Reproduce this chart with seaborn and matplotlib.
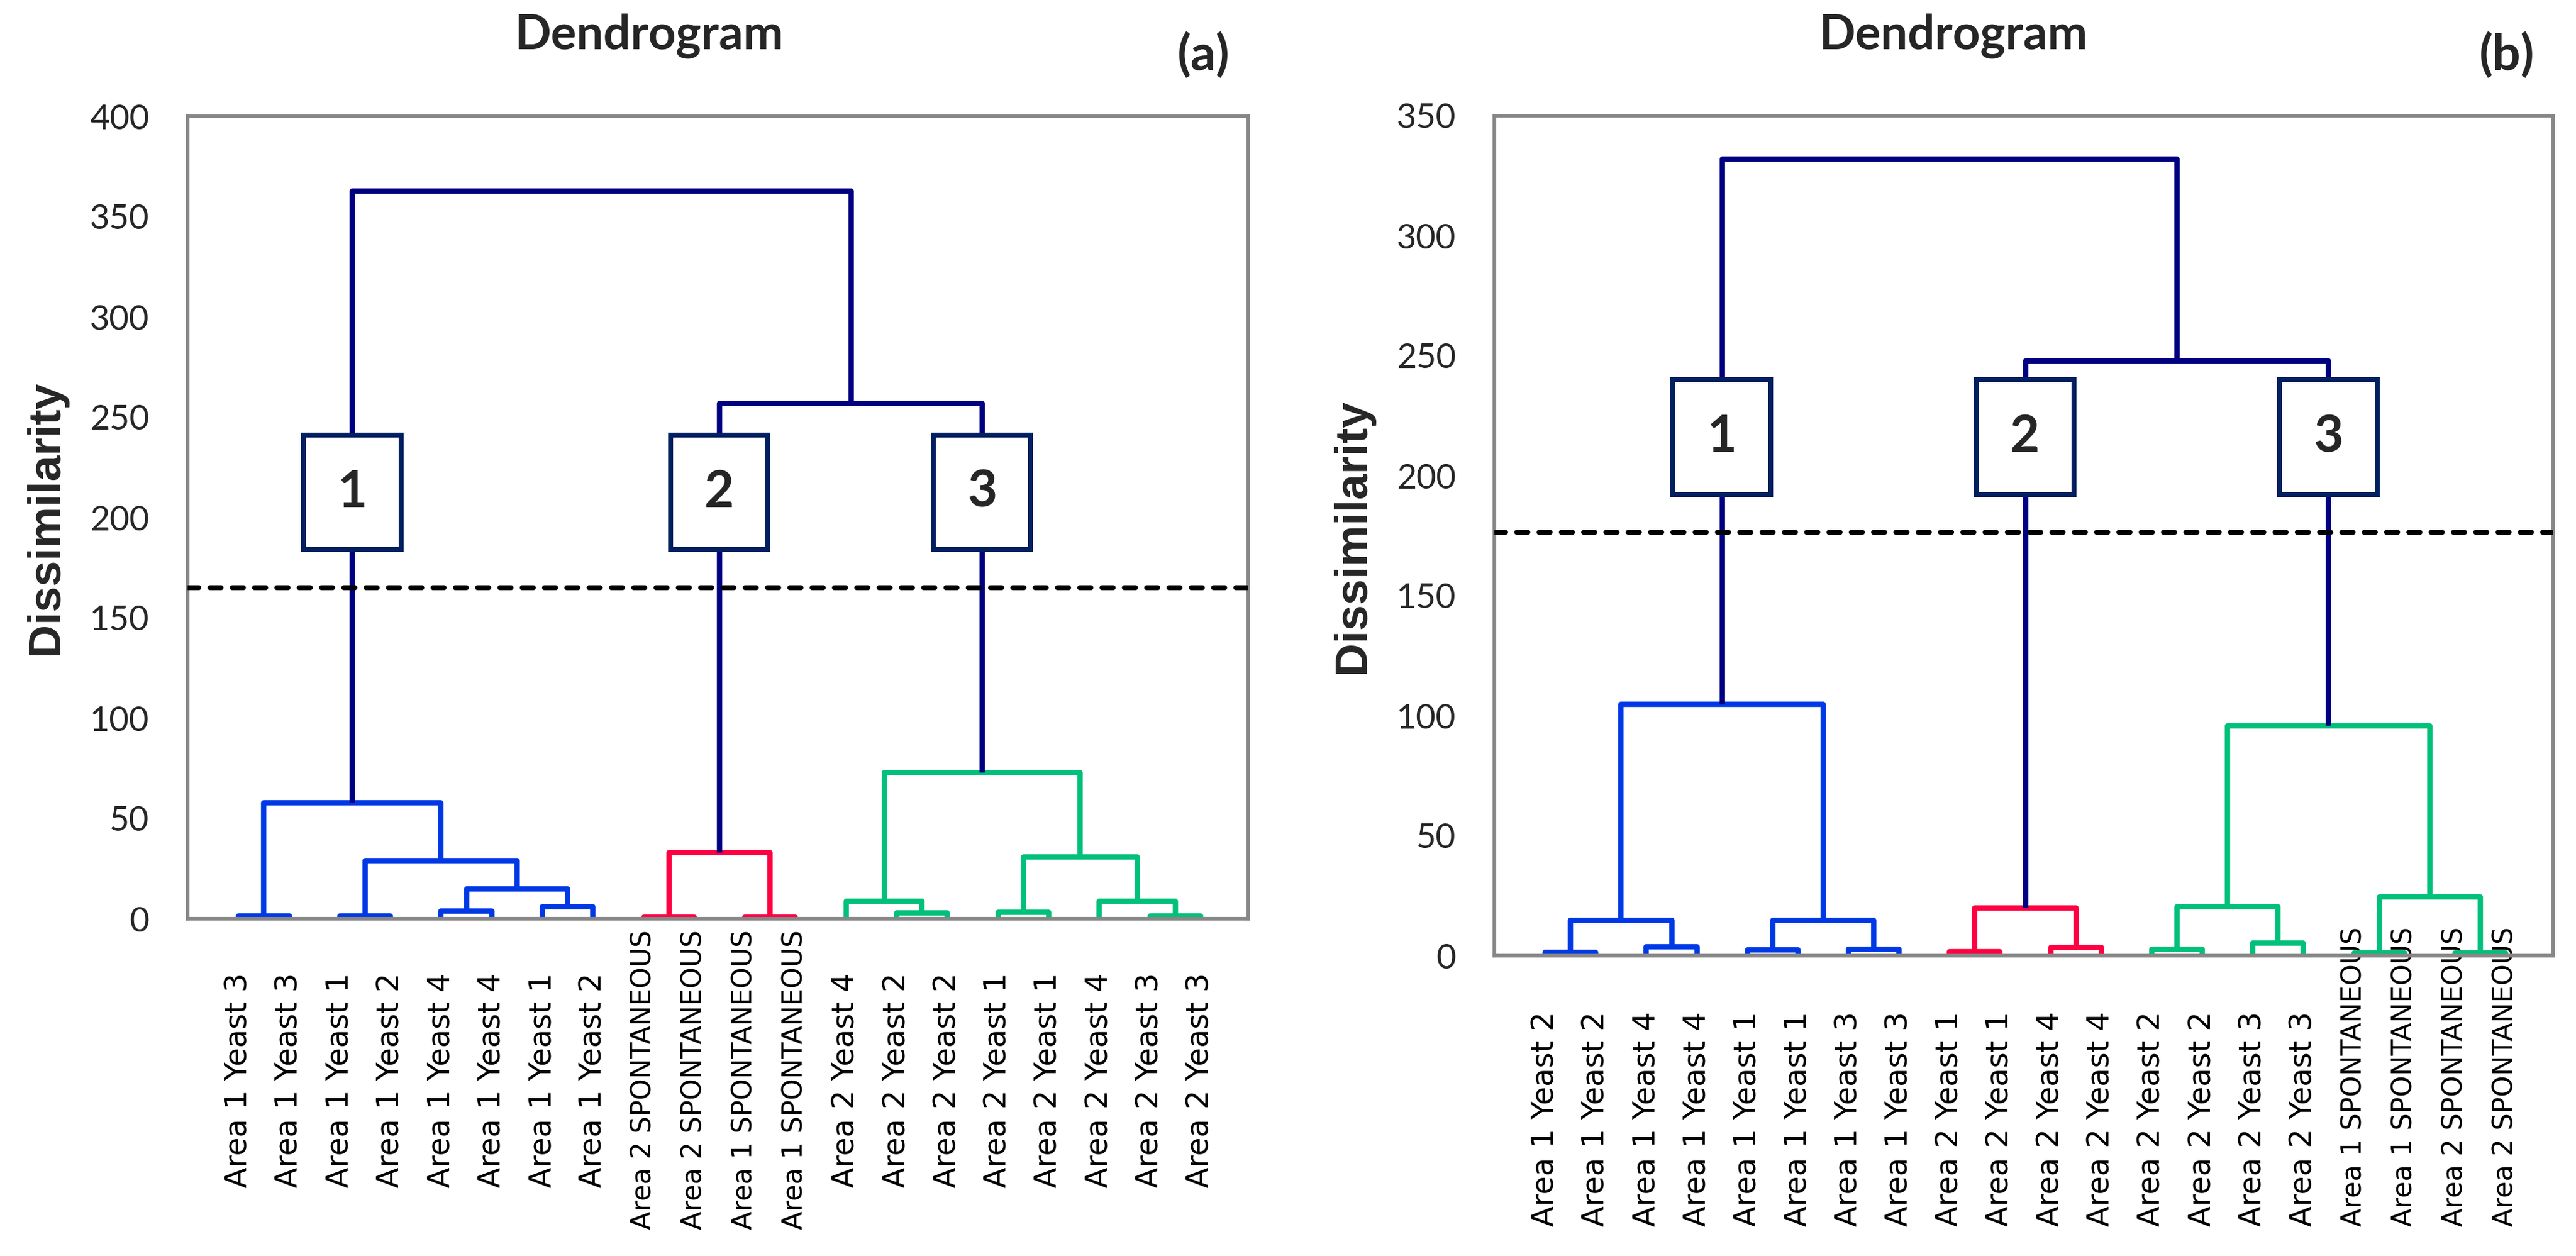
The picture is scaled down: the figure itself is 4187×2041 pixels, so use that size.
import matplotlib
matplotlib.use("Agg")
import pandas as pd
import matplotlib.pyplot as plt
from matplotlib.patches import Rectangle
import seaborn as sns

# Leaf labels (left to right)
labels_a = ["Area 1 Yeast 3", "Area 1 Yeast 3", "Area 1 Yeast 1", "Area 1 Yeast 2",
            "Area 1 Yeast 4", "Area 1 Yeast 4", "Area 1 Yeast 1", "Area 1 Yeast 2",
            "Area 2 SPONTANEOUS", "Area 2 SPONTANEOUS", "Area 1 SPONTANEOUS", "Area 1 SPONTANEOUS",
            "Area 2 Yeast 4", "Area 2 Yeast 2", "Area 2 Yeast 2", "Area 2 Yeast 1",
            "Area 2 Yeast 1", "Area 2 Yeast 4", "Area 2 Yeast 3", "Area 2 Yeast 3"]
labels_b = ["Area 1 Yeast 2", "Area 1 Yeast 2", "Area 1 Yeast 4", "Area 1 Yeast 4",
            "Area 1 Yeast 1", "Area 1 Yeast 1", "Area 1 Yeast 3", "Area 1 Yeast 3",
            "Area 2 Yeast 1", "Area 2 Yeast 1", "Area 2 Yeast 4", "Area 2 Yeast 4",
            "Area 2 Yeast 2", "Area 2 Yeast 2", "Area 2 Yeast 3", "Area 2 Yeast 3",
            "Area 1 SPONTANEOUS", "Area 1 SPONTANEOUS", "Area 2 SPONTANEOUS", "Area 2 SPONTANEOUS"]

# Merges: leaves are 0..19, merged nodes get ids 20, 21, ...
left_a = [0, 2, 4, 6, 22, 21, 20, 8, 10, 27, 13, 12, 15, 18, 17, 32, 31, 29, 26]
right_a = [1, 3, 5, 7, 23, 24, 25, 9, 11, 28, 14, 30, 16, 19, 33, 34, 35, 36, 37]
height_a = [1.5, 1.5, 4, 6, 15, 29, 58, 1, 1, 33, 3, 9, 3.5, 1.5, 9, 31, 73, 257, 363]

left_b = [0, 2, 20, 4, 6, 23, 22, 8, 10, 27, 12, 14, 30, 16, 18, 33, 32, 29, 26]
right_b = [1, 3, 21, 5, 7, 24, 25, 9, 11, 28, 13, 15, 31, 17, 19, 34, 35, 36, 37]
height_b = [1.5, 3.8, 15, 2.5, 2.9, 15, 105, 1.8, 3.5, 20, 2.9, 5.4, 20.5, 1.3, 1.3, 24.7, 96, 248, 332]

groups = ["blue"] * 7 + ["red"] * 3 + ["green"] * 7 + ["top"] * 2
cluster_roots = [26, 29, 36]
cluster_names = ["1", "2", "3"]
cut_a = 165
cut_b = 176.5
box_a = (184, 241)
box_b = (192, 240)

palette = {"blue": "#0038E6", "red": "#FF0040", "green": "#00C07A", "top": "#000080"}
grey = "#878787"


def link_table(left, right, height, n_leaves=20):
    pos = [float(i) for i in range(n_leaves)]
    hts = [0.0] * n_leaves
    rows = []
    for k, (l, r, h) in enumerate(zip(left, right, height)):
        xl, xr = pos[l], pos[r]
        for x, y in [(xl, hts[l]), (xl, h), (xr, h), (xr, hts[r])]:
            rows.append({"link": k, "x": x, "y": y, "group": groups[k]})
        pos.append((xl + xr) / 2)
        hts.append(h)
    return pd.DataFrame(rows), pos


sns.set_theme(style="white")
plt.rcParams["font.family"] = ["DejaVu Sans"]

W, H, DPI = 4187, 2041, 200
fig = plt.figure(figsize=(W / DPI, H / DPI), dpi=DPI)
px = 72 / DPI  # points per pixel


def draw_panel(rect, labels, left, right, height, ymax, cut, box, label_pad, label_va,
               title_x, tag, tag_x, ylab_x):
    l, t, r, b = rect
    ax = fig.add_axes([l / W, 1 - b / H, (r - l) / W, (b - t) / H])
    df, pos = link_table(left, right, height)
    sns.lineplot(data=df, x="x", y="y", units="link", hue="group", palette=palette,
                 estimator=None, sort=False, legend=False, ax=ax, linewidth=3.1,
                 solid_capstyle="butt", zorder=2)
    ax.axhline(cut, color="black", lw=2.9, dashes=(2.25, 2.25),
               dash_capstyle="round", zorder=3)
    for node, name in zip(cluster_roots, cluster_names):
        cx = pos[node]
        ax.add_patch(Rectangle((cx - 0.965, box[0]), 1.93, box[1] - box[0],
                               facecolor="white", edgecolor="#002060", lw=2.9, zorder=4))
        ax.text(cx, (box[0] + box[1]) / 2, name, ha="center", va="center",
                fontsize=30, fontweight="bold", family="Lato", zorder=5)

    ax.set_xlim(-1, 19.95)
    ax.set_ylim(0, ymax)
    ax.set_yticks(range(0, ymax + 1, 50))
    ax.set_xticks(range(len(labels)))
    ax.set_xticklabels(labels, rotation=90)
    for lab in ax.get_xticklabels():
        lab.set_verticalalignment(label_va)
        lab.set_fontsize(15.8 if "SPONT" in lab.get_text() else 17.6)
    ax.tick_params(axis="x", length=0, pad=label_pad * px, colors="black")
    ax.tick_params(axis="y", direction="inout", length=43 * px, width=1.3,
                   color=grey, pad=41 * px, labelsize=20)
    for lab in ax.get_yticklabels():
        lab.set_family("Lato")
    for s in ax.spines.values():
        s.set_color(grey)
        s.set_linewidth(2.1)
    ax.set_xlabel("")
    ax.set_ylabel("")

    fig.text(ylab_x / W, 1 - ((t + b) / 2) / H, "Dissimilarity", rotation=90,
             ha="center", va="center", fontsize=27, fontweight="bold",
             family="Liberation Sans")
    fig.text(title_x / W, 1 - 80 / H, "Dendrogram", ha="center", va="baseline",
             fontsize=28, fontweight="bold", family="Lato")
    fig.text(tag_x / W, 1 - 90 / H, tag, ha="center", va="center",
             fontsize=29, fontweight="bold", family="Lato")


draw_panel((305, 189, 2029, 1493), labels_a, left_a, right_a, height_a, 400,
           cut_a, box_a, 262, "center", 1055, "(a)", 1956, 75)
draw_panel((2429, 188, 4150, 1553), labels_b, left_b, right_b, height_b, 350,
           cut_b, box_b, 440, "bottom", 3175, "(b)", 4074, 2199)

fig.savefig("out.png", dpi=DPI, facecolor="white")
